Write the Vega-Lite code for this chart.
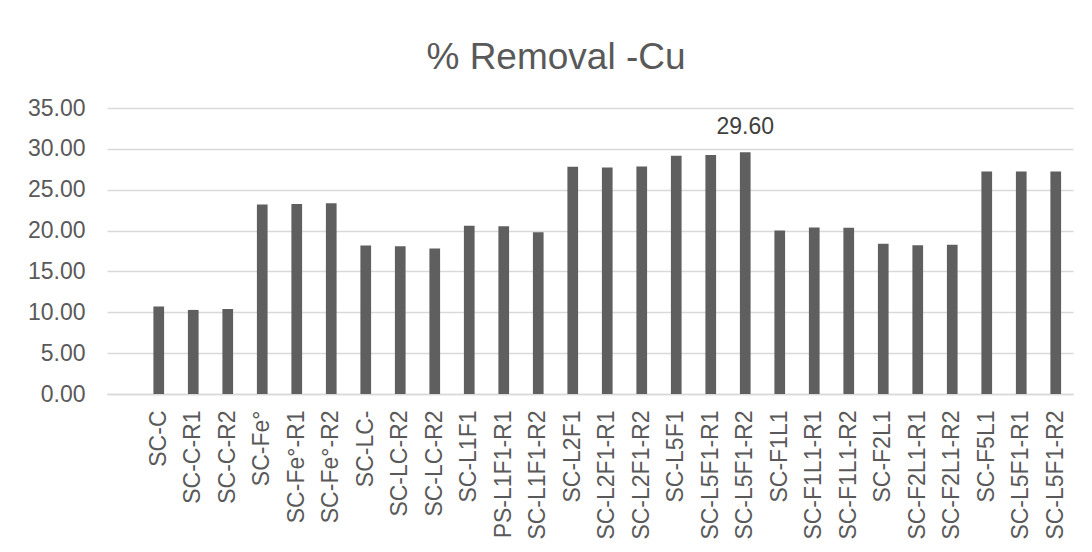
{
  "$schema": "https://vega.github.io/schema/vega-lite/v6.json",
  "width": 966,
  "height": 286,
  "autosize": "none",
  "padding": {"left": 107, "top": 108, "right": 19, "bottom": 158},
  "background": "white",
  "config": {
    "font": "Liberation Sans",
    "view": {"stroke": null}
  },
  "title": {
    "text": "% Removal -Cu",
    "font": "Liberation Sans",
    "fontSize": 37,
    "fontWeight": "normal",
    "color": "#595959",
    "anchor": "middle",
    "frame": "group",
    "dx": -34,
    "baseline": "alphabetic",
    "offset": -9
  },
  "data": {
    "values": [
      {"key": "SC-C", "value": 10.70},
      {"key": "SC-C-R1", "value": 10.29},
      {"key": "SC-C-R2", "value": 10.41},
      {"key": "SC-Fe°", "value": 23.20},
      {"key": "SC-Fe°-R1", "value": 23.24},
      {"key": "SC-Fe°-R2", "value": 23.35},
      {"key": "SC-LC-", "value": 18.17},
      {"key": "SC-LC-R2", "value": 18.09},
      {"key": "SC-LC-R2#2", "value": 17.80},
      {"key": "SC-L1F1", "value": 20.58},
      {"key": "PS-L1F1-R1", "value": 20.54},
      {"key": "SC-L1F1-R2", "value": 19.80},
      {"key": "SC-L2F1", "value": 27.81},
      {"key": "SC-L2F1-R1", "value": 27.73},
      {"key": "SC-L2F1-R2", "value": 27.85},
      {"key": "SC-L5F1", "value": 29.16},
      {"key": "SC-L5F1-R1", "value": 29.24},
      {"key": "SC-L5F1-R2", "value": 29.60},
      {"key": "SC-F1L1", "value": 20.01},
      {"key": "SC-F1L1-R1", "value": 20.38},
      {"key": "SC-F1L1-R2", "value": 20.34},
      {"key": "SC-F2L1", "value": 18.38},
      {"key": "SC-F2L1-R1", "value": 18.21},
      {"key": "SC-F2L1-R2", "value": 18.25},
      {"key": "SC-F5L1", "value": 27.24},
      {"key": "SC-L5F1-R1#2", "value": 27.24},
      {"key": "SC-L5F1-R2#2", "value": 27.24}
    ]
  },
  "encoding": {
    "x": {
      "field": "key",
      "type": "nominal",
      "sort": null,
      "scale": {
        "domain": ["", "SC-C", "SC-C-R1", "SC-C-R2", "SC-Fe°", "SC-Fe°-R1", "SC-Fe°-R2", "SC-LC-", "SC-LC-R2", "SC-LC-R2#2", "SC-L1F1", "PS-L1F1-R1", "SC-L1F1-R2", "SC-L2F1", "SC-L2F1-R1", "SC-L2F1-R2", "SC-L5F1", "SC-L5F1-R1", "SC-L5F1-R2", "SC-F1L1", "SC-F1L1-R1", "SC-F1L1-R2", "SC-F2L1", "SC-F2L1-R1", "SC-F2L1-R2", "SC-F5L1", "SC-L5F1-R1#2", "SC-L5F1-R2#2"],
        "paddingInner": 0.69,
        "paddingOuter": 0.345
      },
      "axis": {
        "title": null,
        "labelExpr": "split(datum.value, '#')[0]",
        "labelAngle": 270,
        "labelAlign": "right",
        "labelBaseline": "middle",
        "labelFontSize": 23,
        "labelColor": "#595959",
        "labelPadding": 16,
        "ticks": false,
        "domain": true,
        "domainColor": "#d9d9d9",
        "domainWidth": 1.3,
        "grid": false,
        "labelOverlap": false
      }
    },
    "y": {
      "field": "value",
      "type": "quantitative",
      "scale": {"domain": [0, 35], "nice": false},
      "axis": {
        "title": null,
        "values": [0, 5, 10, 15, 20, 25, 30, 35],
        "format": ".2f",
        "labelFontSize": 23,
        "labelColor": "#595959",
        "labelPadding": 22,
        "ticks": false,
        "domain": false,
        "grid": true,
        "gridColor": "#d9d9d9",
        "gridWidth": 1.3
      }
    }
  },
  "layer": [
    {
      "mark": {"type": "bar", "color": "#5f5f5f"}
    },
    {
      "transform": [{"filter": "datum.key == 'SC-L5F1-R2'"}],
      "mark": {
        "type": "text",
        "fontSize": 23,
        "color": "#404040",
        "baseline": "alphabetic",
        "dy": -18
      },
      "encoding": {
        "text": {"field": "value", "type": "quantitative", "format": ".2f"}
      }
    }
  ]
}
